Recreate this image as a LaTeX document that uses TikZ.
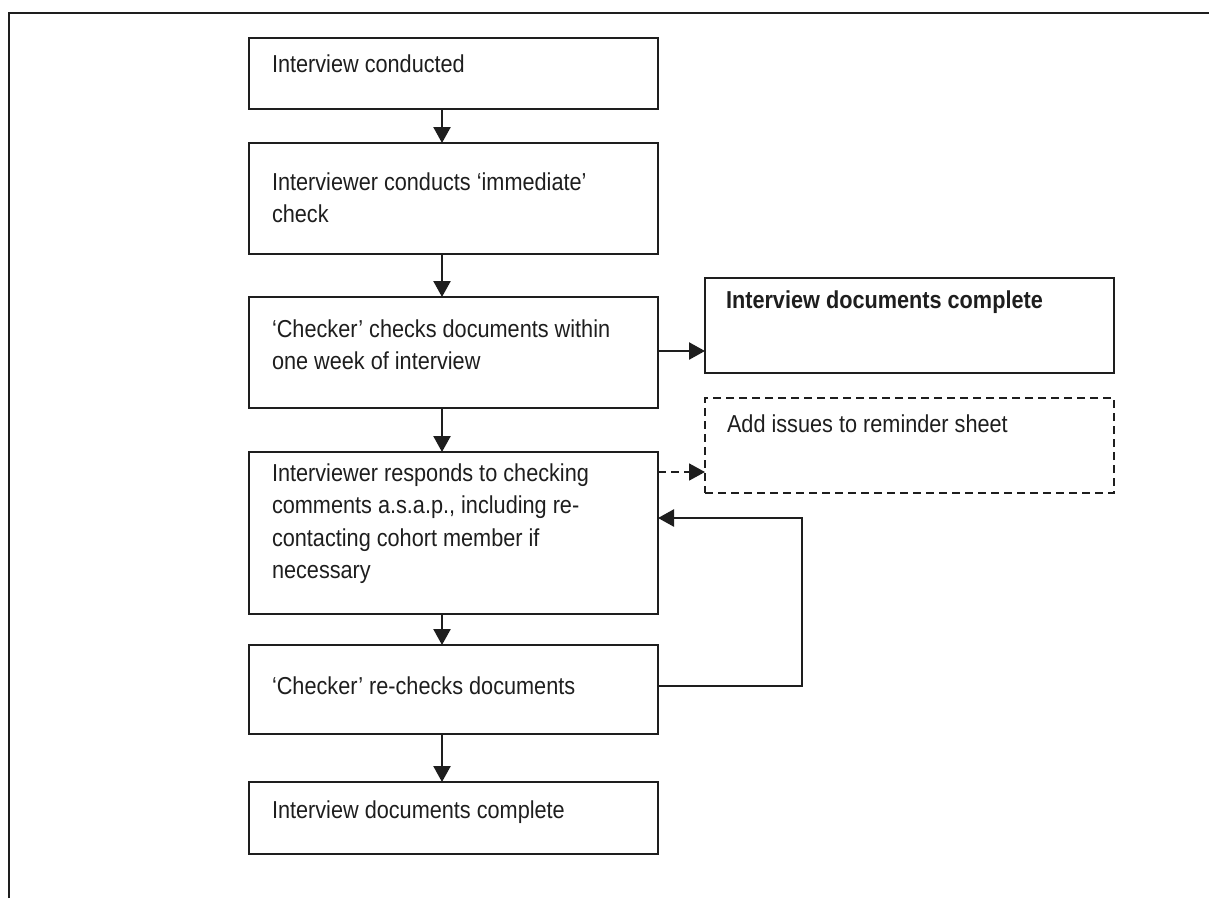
\documentclass[tikz,border=0pt]{standalone}
\usepackage{fontspec}
\setmainfont[FakeStretch=0.885]{Liberation Sans}
\usetikzlibrary{arrows.meta}
\definecolor{ink}{HTML}{1E1E1E}
\begin{document}
\begin{tikzpicture}[x=1pt,y=-1pt,
  every node/.style={inner sep=0pt,outer sep=0pt},
  box/.style={draw=ink,line width=2.2pt,rectangle,anchor=north west},
  dbox/.style={box,line width=1.8pt,dash pattern=on 8pt off 5pt},
  txt/.style={anchor=base west,text=ink,font=\fontsize{24.5}{32.5}\selectfont},
  mtxt/.style={txt,text width=390pt,align=flush left},
  flow/.style={draw=ink,line width=2.4pt,-{Triangle[length=16pt,width=17pt]}},
  dflow/.style={flow,line width=1.8pt,dash pattern=on 8pt off 5pt}]
  \useasboundingbox (0,0) rectangle (1209,898);

  % page frame (top and left edges)
  \coordinate (fTL) at (9,13);
  \coordinate (fTR) at (1209,13);
  \coordinate (fBL) at (9,898);
  \draw[ink,line width=2.2pt] (fBL) -- (fTL) -- (fTR);

  % main column of boxes
  \node[box,minimum width=409pt,minimum height=71pt]  (b1) at (249,38)  {};
  \node[box,minimum width=409pt,minimum height=111pt] (b2) at (249,143) {};
  \node[box,minimum width=409pt,minimum height=111pt] (b3) at (249,297) {};
  \node[box,minimum width=409pt,minimum height=162pt] (b4) at (249,452) {};
  \node[box,minimum width=409pt,minimum height=89pt]  (b5) at (249,645) {};
  \node[box,minimum width=409pt,minimum height=72pt]  (b6) at (249,782) {};

  % side boxes
  \node[box,minimum width=409pt,minimum height=95pt]  (r1) at (705,278) {};
  \node[dbox,minimum width=409pt,minimum height=95pt] (r2) at (705,398) {};

  % texts
  \node[txt]  (t1) at (272,72)  {Interview conducted};
  \node[mtxt] (t2) at (272,190) {Interviewer conducts ‘immediate’\\check};
  \node[mtxt] (t3) at (272,337) {‘Checker’ checks documents within\\one week of interview};
  \node[mtxt] (t4) at (272,481) {Interviewer responds to checking\\comments a.s.a.p., including re-\\contacting cohort member if\\necessary};
  \node[txt]  (t5) at (272,694) {‘Checker’ re-checks documents};
  \node[txt]  (t6) at (272,818) {Interview documents complete};
  \node[txt,font=\fontsize{24.5}{32.5}\selectfont\bfseries] (t7) at (726,308) {Interview documents complete};
  \node[txt]  (t8) at (727,432) {Add issues to reminder sheet};

  % vertical flow, slightly left of the box centres
  \coordinate (ax) at (442,0);
  \draw[flow] (b1.south -| ax) -- (b2.north -| ax);
  \draw[flow] (b2.south -| ax) -- (b3.north -| ax);
  \draw[flow] (b3.south -| ax) -- (b4.north -| ax);
  \draw[flow] (b4.south -| ax) -- (b5.north -| ax);
  \draw[flow] (b5.south -| ax) -- (b6.north -| ax);

  % side branches
  \coordinate (s1) at (0,351);
  \coordinate (s2) at (0,472);
  \draw[flow]  (b3.east |- s1) -- (r1.west |- s1);
  \draw[dflow] (b4.east |- s2) -- (r2.west |- s2);

  % re-check loop
  \coordinate (l1) at (802,686);
  \coordinate (l2) at (802,518);
  \draw[flow] (b5.east |- l1) -- (l1) -- (l2) -- (b4.east |- l2);
\end{tikzpicture}
\end{document}
